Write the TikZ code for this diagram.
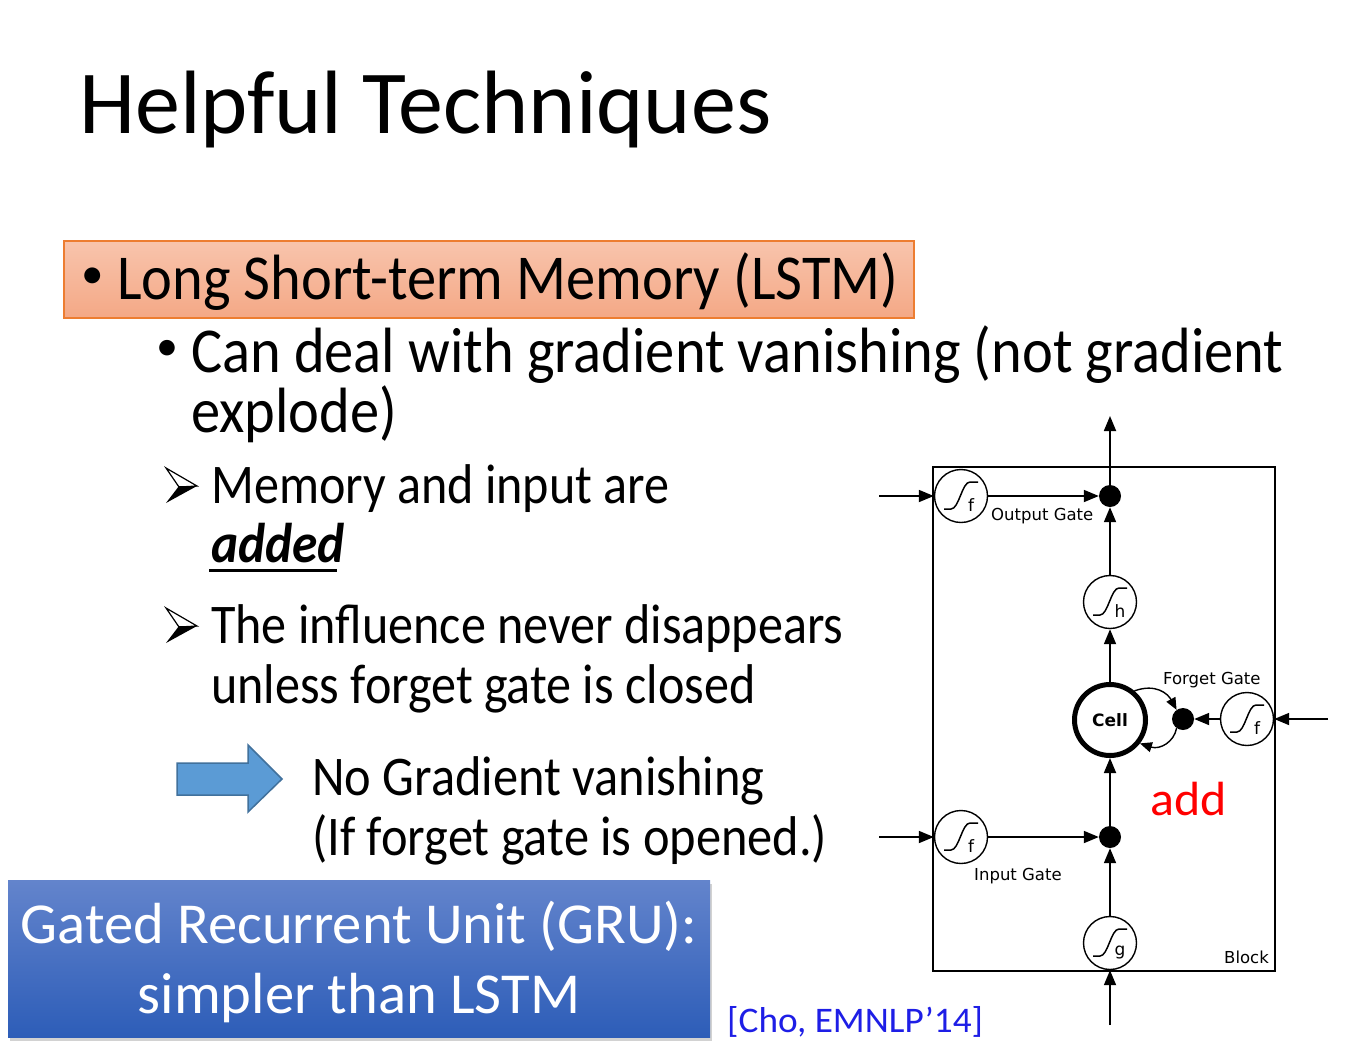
\documentclass[tikz,border=0pt]{standalone}
\usepackage{fontspec}
\setmainfont{Carlito}
\newfontfamily\djv{DejaVu Sans}
\usetikzlibrary{arrows.meta,shadows}
\definecolor{orbord}{HTML}{ED7D31}
\definecolor{ortop}{HTML}{F8C4AC}
\definecolor{orbot}{HTML}{F4A886}
\definecolor{arrfill}{HTML}{5B9BD5}
\definecolor{arrdraw}{HTML}{41719C}
\definecolor{grutop}{HTML}{6384CC}
\definecolor{grubot}{HTML}{2D5DB8}
\definecolor{citeblue}{HTML}{1E1EE6}
\definecolor{addred}{HTML}{FF0000}
\newcommand\fsz[1]{\fontsize{#1}{#1}\selectfont}
\newcommand\hsq[2]{\scalebox{#1}[1]{#2}}
\newcommand\mysig[2]{%
  \begin{scope}[shift={(#1)}]
    \draw[line width=1.5pt] (-17,13) -- (-10,13) .. controls (-2,13) and (1,-14) .. (9,-14) -- (17,-14);
    \node[font=\djv\fsz{17}, inner sep=0pt] at (10,9) {#2};
  \end{scope}}
\begin{document}
\begin{tikzpicture}[x=1pt,y=-1pt,
  txt/.style={inner sep=0pt, anchor=base west},
  sigc/.style={circle, draw, line width=1.4pt, minimum size=53pt, inner sep=0pt, fill=white},
  dotc/.style={circle, fill=black, minimum size=22pt, inner sep=0pt},
  arr/.style={line width=1.8pt, -{Triangle[length=15pt,width=12pt]}},
  carr/.style={line width=1.4pt, -{Triangle[length=12pt,width=10pt]}},
  lbl/.style={font=\djv\fsz{16.5}, inner sep=0pt, anchor=base west}]
\useasboundingbox (0,0) rectangle (1357,1050);
\fill[white] (0,0) rectangle (1357,1050);

% title
\node[txt, font=\fsz{90}] (title) at (79,133) {Helpful Techniques};

% orange box
\node[draw=orbord, line width=2pt, top color=ortop, bottom color=orbot,
      minimum width=850pt, minimum height=77pt, inner sep=0pt, anchor=north west] (lstmbox) at (63,240) {};
\node[txt, font=\fsz{45}] (b1) at (81,288) {•};
\node[txt, font=\fsz{64}] (lstm) at (117,299) {\hsq{0.913}{Long Short-term Memory (LSTM)}};

\node[txt, font=\fsz{44}] (b2) at (156,360) {•};
\node[txt, font=\fsz{64}] (can1) at (191,372) {\hsq{0.913}{Can deal with gradient vanishing (not gradient}};
\node[txt, font=\fsz{64}] (can2) at (191,432) {\hsq{0.913}{explode)}};

% wingding arrow bullets
\foreach \yy in {0,140}{
  \filldraw[fill=white, draw=black, line width=1.2pt] (166,468+\yy) -- (197,486+\yy) -- (179,487+\yy) -- cycle;
  \fill[black] (179,486+\yy) -- (197,486+\yy) -- (166,503+\yy) -- cycle;
}
\node[txt, font=\fsz{56}] (mem1) at (211,503) {\hsq{0.895}{Memory and input are}};
\node[txt, font=\bfseries\itshape\fsz{56}] (added) at (211,562) {\hsq{0.917}{added}};
\draw[line width=3pt] (209,570) -- (337,570);
\node[txt, font=\fsz{56}] (inf1) at (211,643) {\hsq{0.895}{The influence never disappears}};
\node[txt, font=\fsz{56}] (inf2) at (211,703) {\hsq{0.895}{unless forget gate is closed}};

% blue arrow
\filldraw[fill=arrfill, draw=arrdraw, line width=1.5pt]
  (177,763) -- (248,763) -- (248,745) -- (282,779) -- (248,812) -- (248,795) -- (177,795) -- cycle;
\node[txt, font=\fsz{56}] (nog1) at (312,795) {\hsq{0.9}{No Gradient vanishing}};
\node[txt, font=\fsz{56}] (nog2) at (312,855) {\hsq{0.9}{(If forget gate is opened.)}};

% GRU box
\node[top color=grutop, bottom color=grubot, minimum width=702pt, minimum height=157pt,
      inner sep=0pt, anchor=north west,
      drop shadow={opacity=0.35, shadow xshift=2pt, shadow yshift=-4pt}] (grubox) at (8,880) {};
\node[inner sep=0pt, anchor=base, font=\fsz{58}, text=white] (gru1) at (359,943) {\hsq{1.01}{Gated Recurrent Unit (GRU):}};
\node[inner sep=0pt, anchor=base, font=\fsz{58}, text=white] (gru2) at (359,1013) {\hsq{1.01}{simpler than LSTM}};

\node[txt, font=\fsz{36}, text=citeblue] (cite) at (727,1032) {\hsq{1.035}{[Cho, EMNLP’14]}};

% ---------------- LSTM diagram ----------------
\draw[line width=2.6pt] (933,467) rectangle (1275,971);
\node[lbl] (blocklbl) at (1224,963) {Block};

\node[sigc] (og) at (961,496) {};
\node[sigc] (hh) at (1110,602) {};
\node[circle, draw, line width=5pt, minimum size=71pt, inner sep=0pt, fill=white,
      font=\djv\bfseries\fsz{17}] (cell) at (1110,720) {Cell};
\node[sigc] (fg) at (1247,719) {};
\node[sigc] (ig) at (961,837) {};
\node[sigc] (gg) at (1110,943) {};
\node[dotc] (od) at (1110,496) {};
\node[dotc] (fd) at (1183,719) {};
\node[dotc] (id) at (1110,837) {};

\mysig{og}{f}
\mysig{hh}{h}
\mysig{fg}{f}
\mysig{ig}{f}
\mysig{gg}{g}

\coordinate (inO) at (879,496);
\coordinate (inI) at (879,837);
\coordinate (inF) at (1328,719);
\coordinate (inG) at (1110,1025);
\coordinate (outT) at (1110,416);

\draw[arr] (inO) -- (og.west);
\draw[arr] (og.east) -- (od.west);
\draw[arr] (hh.north) -- (od.south);
\draw[arr] (od.north) -- (outT);
\draw[arr] (cell.north) -- (hh.south);
\draw[arr] (id.north) -- (cell.south);
\draw[arr] (ig.east) -- (id.west);
\draw[arr] (inI) -- (ig.west);
\draw[arr] (gg.north) -- (id.south);
\draw[arr] (inG) -- (gg.south);
\draw[arr] (inF) -- (fg.east);
\draw[arr] (fg.west) -- (fd.east);
\draw[carr] (cell.50) .. controls (1156,683) and (1168,694) .. (fd.125);
\draw[carr] (fd.235) .. controls (1174,742) and (1160,750) .. (cell.-38);

\node[lbl] (oglbl) at (991,520) {Output Gate};
\node[lbl] (fglbl) at (1163,684) {Forget Gate};
\node[lbl] (iglbl) at (974,880) {Input Gate};
\node[txt, font=\fsz{48}, text=addred] (addlbl) at (1150,815) {\hsq{1.04}{add}};
\end{tikzpicture}
\end{document}
